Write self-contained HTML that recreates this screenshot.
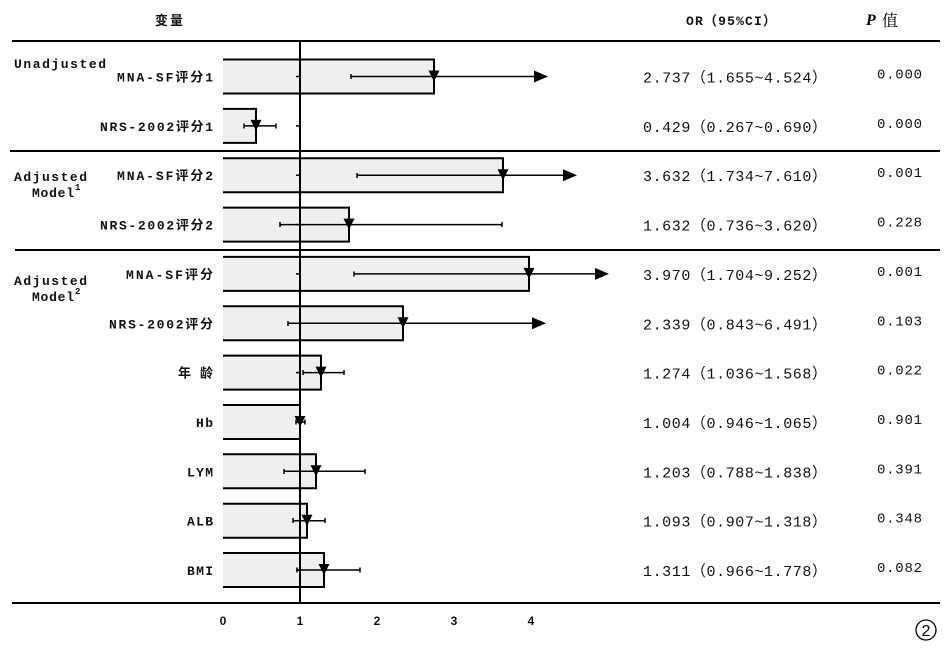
<!DOCTYPE html>
<html><head><meta charset="utf-8"><style>
html,body{margin:0;padding:0;background:#fff}
svg{display:block}
.l{font-family:"Liberation Mono","Noto Sans CJK SC",monospace;font-weight:bold;font-size:13px;fill:#111}
.d{font-family:"Liberation Mono","Noto Sans CJK SC",monospace;font-size:15px;fill:#111}
.p{font-family:"Liberation Mono",monospace;font-size:14px;fill:#111}
.t{font-family:"Liberation Sans",sans-serif;font-weight:bold;font-size:12px;fill:#111}
</style></head><body>
<svg width="946" height="648" viewBox="0 0 946 648" xmlns="http://www.w3.org/2000/svg">
<text class="l" x="155" y="25" textLength="28">变量</text>
<text class="l" x="686" y="25" textLength="90">OR（95%CI）</text>
<text x="866" y="25" style="font-family:'Liberation Serif','Noto Serif CJK SC',serif;font-size:16px;font-style:italic;font-weight:bold">P</text>
<text x="882" y="26" style="font-family:'Noto Serif CJK SC',serif;font-size:16px">值</text>
<g stroke="#000" stroke-width="2">
<line x1="12" y1="41" x2="940" y2="41"/>
<line x1="10" y1="151" x2="940" y2="151"/>
<line x1="15" y1="250" x2="940" y2="250"/>
<line x1="12" y1="603" x2="940" y2="603"/>
</g>
<text class="l" x="14" y="68" textLength="92">Unadjusted</text>
<text class="l" x="14" y="181" textLength="73">Adjusted</text>
<text class="l" x="32" y="197" textLength="42">Model</text><text class="l" x="75" y="190" style="font-size:9px">1</text>
<text class="l" x="14" y="285" textLength="73">Adjusted</text>
<text class="l" x="32" y="301" textLength="42">Model</text><text class="l" x="75" y="294" style="font-size:9px">2</text>

<g fill="#efefef" stroke="#000" stroke-width="2">
<path d="M223 59.5H434V93.5H223"/>
<path d="M223 108.9H256V142.9H223"/>
<path d="M223 158.2H503V192.2H223"/>
<path d="M223 207.6H349V241.6H223"/>
<path d="M223 256.9H529V290.9H223"/>
<path d="M223 306.3H403V340.3H223"/>
<path d="M223 355.6H321V389.6H223"/>
<path d="M223 405H300V439H223"/>
<path d="M223 454.3H316V488.3H223"/>
<path d="M223 503.7H307V537.7H223"/>
<path d="M223 553H324V587H223"/>
</g>
<g stroke="#000" stroke-width="1.5">
<line x1="296" y1="76.5" x2="300" y2="76.5"/><line x1="296" y1="125.9" x2="300" y2="125.9"/>
<line x1="296" y1="175.2" x2="300" y2="175.2"/><line x1="296" y1="224.6" x2="300" y2="224.6"/>
<line x1="296" y1="273.9" x2="300" y2="273.9"/><line x1="296" y1="323.3" x2="300" y2="323.3"/>
<line x1="296" y1="372.6" x2="300" y2="372.6"/><line x1="296" y1="422" x2="300" y2="422"/>
<line x1="296" y1="471.3" x2="300" y2="471.3"/><line x1="296" y1="520.7" x2="300" y2="520.7"/>
<line x1="296" y1="570" x2="300" y2="570"/>
<!-- arrows rows -->
<line x1="351" y1="76.5" x2="536" y2="76.5"/><line x1="351" y1="74" x2="351" y2="79"/>
<line x1="357" y1="175.2" x2="565" y2="175.2"/><line x1="357" y1="173" x2="357" y2="178"/>
<line x1="354" y1="273.9" x2="597" y2="273.9"/><line x1="354" y1="271.5" x2="354" y2="276.5"/>
<line x1="288" y1="323.3" x2="534" y2="323.3"/><line x1="288" y1="321" x2="288" y2="326"/>
<!-- CI rows -->
<line x1="244" y1="125.9" x2="276" y2="125.9"/><line x1="244" y1="123.5" x2="244" y2="128.5"/><line x1="276" y1="123.5" x2="276" y2="128.5"/>
<line x1="280" y1="224.6" x2="502" y2="224.6"/><line x1="280" y1="222" x2="280" y2="227"/><line x1="502" y1="222" x2="502" y2="227"/>
<line x1="303" y1="372.6" x2="344" y2="372.6"/><line x1="303" y1="370" x2="303" y2="375"/><line x1="344" y1="370" x2="344" y2="375"/>
<line x1="296" y1="422" x2="305" y2="422"/><line x1="296" y1="419.5" x2="296" y2="424.5"/><line x1="305" y1="419.5" x2="305" y2="424.5"/>
<line x1="284" y1="471.3" x2="365" y2="471.3"/><line x1="284" y1="469" x2="284" y2="474"/><line x1="365" y1="469" x2="365" y2="474"/>
<line x1="293" y1="520.7" x2="325" y2="520.7"/><line x1="293" y1="518" x2="293" y2="523"/><line x1="325" y1="518" x2="325" y2="523"/>
<line x1="297" y1="570" x2="360" y2="570"/><line x1="297" y1="567.5" x2="297" y2="572.5"/><line x1="360" y1="567.5" x2="360" y2="572.5"/>
</g>
<g fill="#000">
<path d="M534 70.5L548 76.5L534 82.5Z"/>
<path d="M563 169.2L577 175.2L563 181.2Z"/>
<path d="M595 267.9L609 273.9L595 279.9Z"/>
<path d="M532 317.3L546 323.3L532 329.3Z"/>
<path d="M428.5 70.5H439.5L434 81.5Z"/>
<path d="M250.5 119.9H261.5L256 130.9Z"/>
<path d="M497.5 169.2H508.5L503 180.2Z"/>
<path d="M343.5 218.6H354.5L349 229.6Z"/>
<path d="M523.5 267.9H534.5L529 278.9Z"/>
<path d="M397.5 317.3H408.5L403 328.3Z"/>
<path d="M315.5 366.6H326.5L321 377.6Z"/>
<path d="M294.5 416H305.5L300 427Z"/>
<path d="M310.5 465.3H321.5L316 476.3Z"/>
<path d="M301.5 514.7H312.5L307 525.7Z"/>
<path d="M318.5 564H329.5L324 575Z"/>
</g>
<line x1="300" y1="42" x2="300" y2="603" stroke="#000" stroke-width="2"/>

<g class="l" text-anchor="end">
<text x="213" y="81.5" textLength="96">MNA-SF评分1</text>
<text x="213" y="130.9" textLength="113">NRS-2002评分1</text>
<text x="213" y="180.2" textLength="96">MNA-SF评分2</text>
<text x="213" y="229.6" textLength="113">NRS-2002评分2</text>
<text x="213" y="278.9" textLength="87">MNA-SF评分</text>
<text x="213" y="328.3" textLength="104">NRS-2002评分</text>
<text x="213" y="377.6" textLength="35">年龄</text>
<text x="213" y="427" textLength="17">Hb</text>
<text x="213" y="476.3" textLength="26">LYM</text>
<text x="213" y="525.7" textLength="26">ALB</text>
<text x="213" y="575" textLength="26">BMI</text>
</g>
<g class="d">
<text x="643" y="82.5" textLength="184">2.737（1.655~4.524）</text>
<text x="643" y="131.9" textLength="184">0.429（0.267~0.690）</text>
<text x="643" y="181.2" textLength="184">3.632（1.734~7.610）</text>
<text x="643" y="230.6" textLength="184">1.632（0.736~3.620）</text>
<text x="643" y="279.9" textLength="184">3.970（1.704~9.252）</text>
<text x="643" y="329.3" textLength="184">2.339（0.843~6.491）</text>
<text x="643" y="378.6" textLength="184">1.274（1.036~1.568）</text>
<text x="643" y="428" textLength="184">1.004（0.946~1.065）</text>
<text x="643" y="477.3" textLength="184">1.203（0.788~1.838）</text>
<text x="643" y="526.7" textLength="184">1.093（0.907~1.318）</text>
<text x="643" y="576" textLength="184">1.311（0.966~1.778）</text>
</g>
<g class="p">
<text x="877" y="78.5" textLength="45">0.000</text>
<text x="877" y="127.9" textLength="45">0.000</text>
<text x="877" y="177.2" textLength="45">0.001</text>
<text x="877" y="226.6" textLength="45">0.228</text>
<text x="877" y="275.9" textLength="45">0.001</text>
<text x="877" y="325.3" textLength="45">0.103</text>
<text x="877" y="374.6" textLength="45">0.022</text>
<text x="877" y="424" textLength="45">0.901</text>
<text x="877" y="473.3" textLength="45">0.391</text>
<text x="877" y="522.7" textLength="45">0.348</text>
<text x="877" y="572" textLength="45">0.082</text>
</g>
<g class="t" text-anchor="middle">
<text x="223" y="625">0</text><text x="300" y="625">1</text><text x="377" y="625">2</text><text x="454" y="625">3</text><text x="531" y="625">4</text>
</g>
<circle cx="926" cy="630" r="10" fill="none" stroke="#000" stroke-width="1.3"/>
<text x="926" y="636" text-anchor="middle" style="font-family:'Liberation Sans',sans-serif;font-size:16px">2</text>
</svg>
</body></html>
